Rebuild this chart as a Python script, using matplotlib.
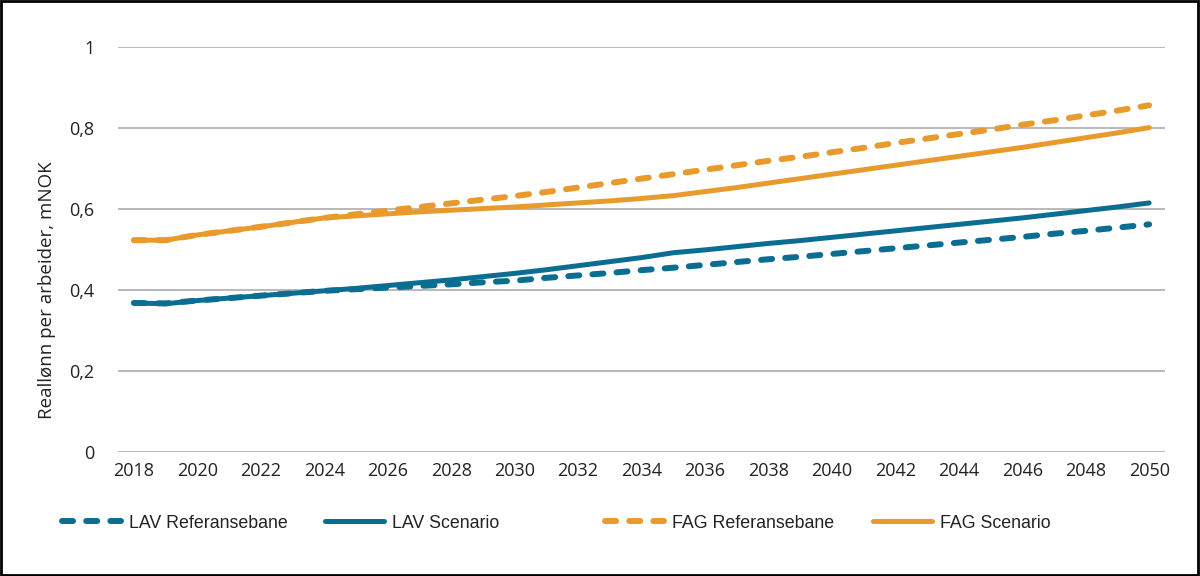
import matplotlib
matplotlib.use("Agg")
import matplotlib.pyplot as plt
from matplotlib.patches import Rectangle
from matplotlib.lines import Line2D

years = list(range(2018, 2051))

lav_ref = [0.368, 0.367, 0.374, 0.380, 0.386, 0.392, 0.398, 0.402, 0.406, 0.410, 0.414,
           0.419, 0.423, 0.430, 0.436, 0.442, 0.449, 0.455, 0.462, 0.469, 0.476, 0.482,
           0.489, 0.496, 0.503, 0.510, 0.517, 0.524, 0.531, 0.539, 0.546, 0.554, 0.562]
lav_scen = [0.368, 0.366, 0.374, 0.380, 0.386, 0.392, 0.398, 0.404, 0.411, 0.418, 0.425,
            0.433, 0.441, 0.450, 0.460, 0.470, 0.480, 0.492, 0.499, 0.507, 0.515, 0.522,
            0.530, 0.538, 0.546, 0.554, 0.562, 0.570, 0.578, 0.587, 0.596, 0.605, 0.615]
fag_ref = [0.523, 0.523, 0.536, 0.546, 0.556, 0.567, 0.578, 0.587, 0.596, 0.605, 0.614,
           0.623, 0.632, 0.642, 0.653, 0.664, 0.675, 0.686, 0.697, 0.708, 0.719, 0.729,
           0.740, 0.751, 0.763, 0.774, 0.785, 0.796, 0.808, 0.819, 0.831, 0.843, 0.856]
fag_scen = [0.523, 0.523, 0.536, 0.546, 0.556, 0.567, 0.578, 0.583, 0.588, 0.593, 0.597,
            0.601, 0.605, 0.610, 0.615, 0.620, 0.626, 0.633, 0.643, 0.653, 0.664, 0.675,
            0.686, 0.697, 0.708, 0.719, 0.730, 0.741, 0.752, 0.764, 0.776, 0.788, 0.801]

labels = ["LAV Referansebane", "LAV Scenario", "FAG Referansebane", "FAG Scenario"]
yticks = [0, 0.2, 0.4, 0.6, 0.8, 1.0]
ytick_labels = ["0", "0,2", "0,4", "0,6", "0,8", "1"]
xticks = list(range(2018, 2051, 2))

BLUE = "#0B6D92"
ORANGE = "#E89B2C"
TXT = "#222222"
AX_FONT = ['Open Sans', 'DejaVu Sans']
LEG_FONT = ['Liberation Sans', 'DejaVu Sans']

plt.rcParams['font.family'] = AX_FONT

fig = plt.figure(figsize=(12, 5.76), dpi=100)
ax = fig.add_axes([118/1200, 1-452/576, (1165-118)/1200, (452-47)/576])

dash = (0, (1.85, 2.2))
lines = []
lines += ax.plot(years, lav_ref, color=BLUE, lw=4.3, linestyle=dash, dash_capstyle='round')
lines += ax.plot(years, lav_scen, color=BLUE, lw=3.6, solid_capstyle='round')
lines += ax.plot(years, fag_ref, color=ORANGE, lw=4.3, linestyle=dash, dash_capstyle='round')
lines += ax.plot(years, fag_scen, color=ORANGE, lw=3.6, solid_capstyle='round')

ax.set_xlim(2017.5, 2050.5)
ax.set_ylim(0, 1)
ax.set_yticks(yticks)
ax.set_yticklabels(ytick_labels)
ax.set_xticks(xticks)
ax.set_xticklabels([str(x) for x in xticks])
for s in ax.spines.values():
    s.set_visible(False)
ax.grid(axis='y', color='#A6A6A6', lw=1.1)
ax.set_axisbelow(True)
ax.tick_params(axis='both', length=0, labelsize=13, labelcolor=TXT)
ax.tick_params(axis='y', pad=17)
ax.tick_params(axis='x', pad=7)

fig.text(47/1200, 1-290/576, "Reallønn per arbeider, mNOK", rotation=90,
         ha='center', va='center', fontsize=13.5, color=TXT)

leg_x = [62, 325, 605, 873]
for ln, lab, x in zip(lines, labels, leg_x):
    leg = fig.legend([ln], [lab], loc='center left', bbox_to_anchor=(x/1200, 1-523/576),
                     frameon=False, prop={'family': LEG_FONT, 'size': 12.8},
                     handlelength=3.3, handletextpad=0.45,
                     borderpad=0, borderaxespad=0)
    for t in leg.get_texts():
        t.set_color(TXT)

fig.patches.append(Rectangle((0.001, 0.002), 0.997, 0.996, transform=fig.transFigure,
                             fill=False, edgecolor='black', lw=2))

fig.savefig("out.png", dpi=100)
